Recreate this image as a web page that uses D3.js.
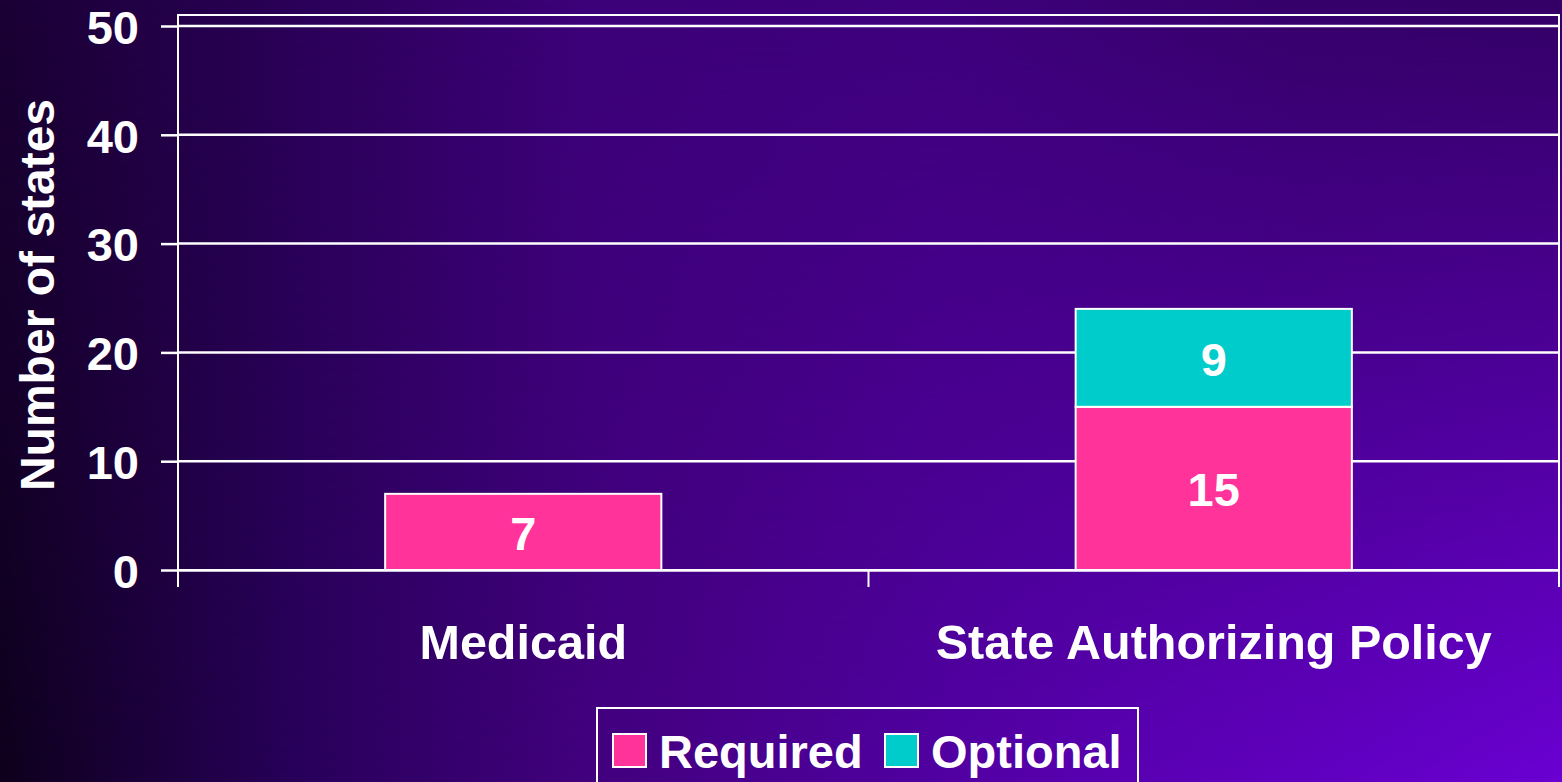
<!DOCTYPE html>
<html>
<head>
<meta charset="utf-8">
<script src="https://cdn.jsdelivr.net/npm/d3@7"></script>
<style>
  body { margin: 0; background: #1a0034; overflow: hidden; }
  text { font-family: "Liberation Sans", Arial, sans-serif; font-weight: bold; fill: #fff; }
</style>
</head>
<body>
<div id="chart"></div>
<script>
const categories = ['Medicaid', 'State Authorizing Policy'];
const required = [7, 15];
const optional = [0, 9];
const seriesNames = ['Required', 'Optional'];
const yTicks = [0, 10, 20, 30, 40, 50];

const size = { width: 1562, height: 782 };
const margin = { top: 26, right: 3, bottom: 212, left: 178 };
const colors = { Required: '#ff3399', Optional: '#00cccc' };

const svg = d3.select('#chart').append('svg')
  .attr('width', size.width)
  .attr('height', size.height);

// background: two horizontal gradients blended top -> bottom
const defs = svg.append('defs');
const topStops = [[0, '#1a0034'], [0.18, '#2a0056'], [0.37, '#3c0078'], [0.6, '#3e007c'], [0.83, '#36006a'], [1, '#340066']];
const botStops = [[0, '#0e001c'], [0.19, '#28005a'], [0.38, '#42007e'], [0.58, '#50009e'], [0.7, '#5800b0'], [1, '#6a00d2']];
const addGrad = (id, stops) => {
  const g = defs.append('linearGradient').attr('id', id)
    .attr('x1', 0).attr('y1', 0).attr('x2', 1).attr('y2', 0);
  stops.forEach(([o, c]) => g.append('stop').attr('offset', o).attr('stop-color', c));
};
addGrad('bgTop', topStops);
addGrad('bgBot', botStops);
const fade = defs.append('linearGradient').attr('id', 'fade')
  .attr('x1', 0).attr('y1', 0).attr('x2', 0).attr('y2', 1);
fade.append('stop').attr('offset', 0).attr('stop-color', '#fff').attr('stop-opacity', 0);
fade.append('stop').attr('offset', 1).attr('stop-color', '#fff').attr('stop-opacity', 1);
defs.append('mask').attr('id', 'fadeMask')
  .append('rect').attr('width', size.width).attr('height', size.height).attr('fill', 'url(#fade)');

svg.append('rect').attr('width', size.width).attr('height', size.height).attr('fill', 'url(#bgTop)');
svg.append('rect').attr('width', size.width).attr('height', size.height)
  .attr('fill', 'url(#bgBot)').attr('mask', 'url(#fadeMask)');

const x = d3.scaleBand()
  .domain(categories)
  .range([margin.left, size.width - margin.right]);
const y = d3.scaleLinear()
  .domain([0, 50])
  .range([size.height - margin.bottom, margin.top]);
const barW = x.bandwidth() * 0.4;

// plot frame
svg.append('rect')
  .attr('x', x.range()[0]).attr('y', 15)
  .attr('width', x.range()[1] - x.range()[0])
  .attr('height', y(0) - 15)
  .attr('fill', 'none').attr('stroke', '#fff').attr('stroke-width', 2);

// gridlines
svg.append('g')
  .selectAll('line')
  .data(yTicks.slice(1))
  .enter()
  .append('line')
  .attr('x1', x.range()[0]).attr('x2', x.range()[1])
  .attr('y1', (d) => y(d)).attr('y2', (d) => y(d))
  .attr('stroke', '#fff').attr('stroke-width', 2.5);

// bars
const stack = d3.stack().keys(seriesNames)(
  categories.map((c, i) => ({ cat: c, Required: required[i], Optional: optional[i] })),
);
stack.forEach((layer) => {
  const g = svg.append('g');
  const segs = layer.filter((d) => d[1] - d[0] > 0);
  g.selectAll('rect')
    .data(segs)
    .enter()
    .append('rect')
    .attr('x', (d) => x(d.data.cat) + (x.bandwidth() - barW) / 2)
    .attr('y', (d) => y(d[1]))
    .attr('width', barW)
    .attr('height', (d) => y(d[0]) - y(d[1]))
    .attr('fill', colors[layer.key])
    .attr('stroke', '#fff')
    .attr('stroke-width', 2);
  g.selectAll('text')
    .data(segs)
    .enter()
    .append('text')
    .attr('x', (d) => x(d.data.cat) + x.bandwidth() / 2)
    .attr('y', (d) => (y(d[0]) + y(d[1])) / 2 + 18)
    .attr('text-anchor', 'middle')
    .style('font-size', '47px')
    .text((d) => d[1] - d[0]);
});

// y axis
const yAxis = svg.append('g')
  .attr('transform', `translate(${margin.left},0)`)
  .call(d3.axisLeft(y).tickValues(yTicks).tickSize(17).tickPadding(22));
yAxis.select('.domain').remove();
yAxis.selectAll('line').attr('stroke', '#fff').attr('stroke-width', 2.5);
yAxis.selectAll('text')
  .attr('fill', '#fff')
  .attr('dy', '0.37em')
  .style('font-size', '47px')
  .style('font-family', '"Liberation Sans", Arial, sans-serif');

// x axis
const xAxis = svg.append('g')
  .attr('transform', `translate(0,${y(0)})`)
  .call(d3.axisBottom(x).tickSize(0).tickPadding(55));
xAxis.select('.domain').attr('stroke', '#fff').attr('stroke-width', 2.5);
xAxis.selectAll('text')
  .attr('fill', '#fff')
  .style('font-size', '48.5px')
  .style('font-family', '"Liberation Sans", Arial, sans-serif');
xAxis.selectAll('.sep')
  .data([x.range()[0], x.range()[0] + x.step(), x.range()[1]])
  .enter()
  .append('line')
  .attr('x1', (d) => d).attr('x2', (d) => d)
  .attr('y1', 0).attr('y2', 17)
  .attr('stroke', '#fff').attr('stroke-width', 2);

// axis title
svg.append('text')
  .attr('transform', `translate(54,${(y(0) + y(50)) / 2 - 3}) rotate(-90)`)
  .attr('text-anchor', 'middle')
  .style('font-size', '48px')
  .text('Number of states');

// legend
const legend = svg.append('g');
legend.append('rect')
  .attr('x', 597).attr('y', 708)
  .attr('width', 541).attr('height', 100)
  .attr('fill', 'none').attr('stroke', '#fff').attr('stroke-width', 2);
const legendX = [613, 885];
seriesNames.forEach((name, i) => {
  legend.append('rect')
    .attr('x', legendX[i]).attr('y', 734)
    .attr('width', 33).attr('height', 33)
    .attr('fill', colors[name]).attr('stroke', '#fff').attr('stroke-width', 2);
  legend.append('text')
    .attr('x', legendX[i] + 46).attr('y', 768)
    .style('font-size', '47px')
    .text(name);
});
</script>
</body>
</html>
